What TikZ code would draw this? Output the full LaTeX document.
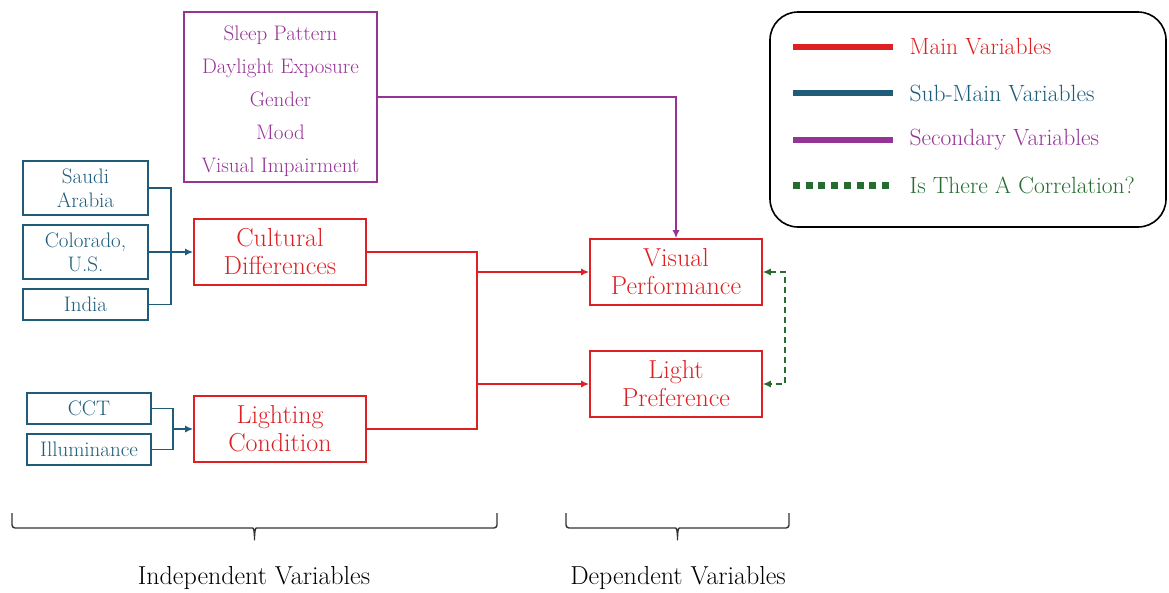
\documentclass[tikz,border=0pt]{standalone}
\usepackage{fontspec}
\usetikzlibrary{arrows.meta}
\definecolor{mainred}{RGB}{222,32,36}
\definecolor{subblue}{RGB}{30,92,122}
\definecolor{secpurple}{RGB}{150,52,150}
\definecolor{corrgreen}{RGB}{36,108,48}
\tikzset{
  mainbox/.style={draw=mainred,text=mainred,line width=1.6pt,align=center,inner sep=0pt,
    minimum width=172pt,minimum height=66pt,font=\fontsize{26}{28}\selectfont},
  subbox/.style={draw=subblue,text=subblue,line width=1.6pt,align=center,inner sep=0pt,
    minimum width=125pt,font=\fontsize{21}{24}\selectfont},
  secbox/.style={draw=secpurple,text=secpurple,line width=1.6pt,align=center,inner sep=0pt,
    minimum width=193pt,minimum height=170pt,font=\fontsize{21}{33}\selectfont},
  mainline/.style={draw=mainred,line width=1.6pt},
  subline/.style={draw=subblue,line width=1.6pt},
  legtext/.style={anchor=west,font=\fontsize{23.5}{28}\selectfont},
  tip/.style={-{Latex[length=8pt,width=7pt]}},
}
\newcommand\varbrace[2]{%
  \draw[line width=1.4pt,draw=black!80,rounded corners=3pt]
    (#1,-513pt) -- (#1,-528pt) -- ({(#1+#2)/2-5pt},-528pt)
    .. controls ({(#1+#2)/2-1pt},-528pt) and ({(#1+#2)/2},-530pt) .. ({(#1+#2)/2},-542pt)
    .. controls ({(#1+#2)/2},-530pt) and ({(#1+#2)/2+1pt},-528pt) .. ({(#1+#2)/2+5pt},-528pt)
    -- (#2,-528pt) -- (#2,-513pt);}
\begin{document}
\begin{tikzpicture}
\useasboundingbox (0pt,0pt) rectangle (1169pt,-592pt);
\node[secbox] (sec) at (280.5pt,-97pt) {\rule{0pt}{23pt}Sleep Pattern\\Daylight Exposure\\Gender\\Mood\\Visual Impairment};
\node[subbox,minimum height=54pt] (saudi) at (85.5pt,-188pt) {Saudi\\Arabia};
\node[subbox,minimum height=54pt] (colorado) at (85.5pt,-252pt) {Colorado,\\U.S.};
\node[subbox,minimum height=31pt] (india) at (85.5pt,-304.5pt) {India};
\node[subbox,minimum height=31pt,minimum width=124pt] (cct) at (89pt,-408.5pt) {CCT};
\node[subbox,minimum height=31pt,minimum width=124pt] (illum) at (89pt,-449.5pt) {Illuminance};
\node[mainbox] (cultural) at (280pt,-252pt) {Cultural\\Differences};
\node[mainbox] (lighting) at (280pt,-429pt) {Lighting\\Condition};
\node[mainbox] (visual) at (676pt,-272pt) {Visual\\Performance};
\node[mainbox] (pref) at (676pt,-384pt) {Light\\Preference};
\coordinate (cjoin) at (171pt,-252pt);
\coordinate (ljoin) at (173pt,-429pt);
\coordinate (rtop) at (477pt,-252pt);
\coordinate (rbot) at (477pt,-429pt);
\coordinate (gjoin) at (785pt,-272pt);
\draw[subline] (saudi.east) -| (cjoin) |- (india.east);
\draw[subline,tip] (colorado.east) -- (cultural.west);
\draw[subline] (cct.east) -| (ljoin) |- (illum.east);
\draw[subline,tip] (ljoin) -- (lighting.west);
\draw[mainline] (cultural.east) -- (rtop) -- (rbot) -- (lighting.east);
\draw[mainline,tip] (rtop |- visual.west) -- (visual.west);
\draw[mainline,tip] (rtop |- pref.west) -- (pref.west);
\draw[secpurple,line width=1.6pt,tip] (sec.east) -| (visual.north);
\draw[corrgreen,line width=1.4pt,dash pattern=on 6pt off 4pt,{Latex[length=8pt,width=7pt]}-{Latex[length=8pt,width=7pt]}] (visual.east) -- (gjoin) |- (pref.east);
\node[draw=black,line width=1.6pt,rounded corners=28pt,minimum width=396pt,minimum height=215pt] (legend) at (968pt,-119.5pt) {};
\draw[mainred,line width=6.5pt] (793pt,-47pt) -- (893pt,-47pt);
\draw[subblue,line width=6.5pt] (793pt,-93pt) -- (893pt,-93pt);
\draw[secpurple,line width=6.5pt] (793pt,-140pt) -- (893pt,-140pt);
\draw[corrgreen,line width=7pt,dash pattern=on 7pt off 5.7pt] (793pt,-185pt) -- (893pt,-185pt);
\node[legtext,text=mainred] (lmain) at (906pt,-47pt) {Main Variables};
\node[legtext,text=subblue] (lsub) at (906pt,-93pt) {Sub-Main Variables};
\node[legtext,text=secpurple] (lsec) at (906pt,-140pt) {Secondary Variables};
\node[legtext,text=corrgreen] (lcorr) at (906pt,-185pt) {Is There A Correlation?};
\varbrace{12pt}{497pt}
\varbrace{566pt}{789pt}
\node[font=\fontsize{26}{28}\selectfont] (indep) at (254pt,-578pt) {Independent Variables};
\node[font=\fontsize{26}{28}\selectfont] (dep) at (678pt,-578pt) {Dependent Variables};
\end{tikzpicture}
\end{document}
